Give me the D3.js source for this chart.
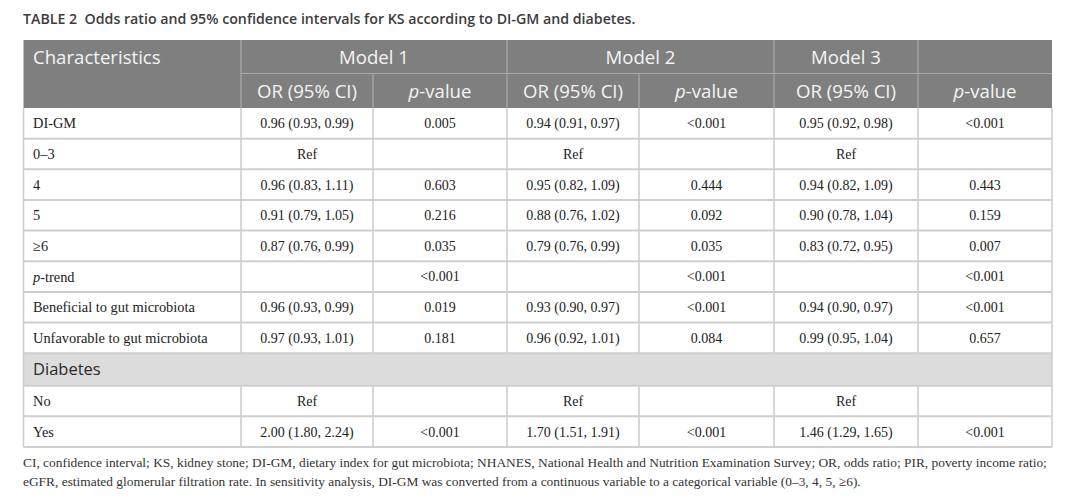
<!DOCTYPE html>
<html>
<head>
<meta charset="utf-8">
<script src="https://cdn.jsdelivr.net/npm/d3@7"></script>
<style>
  body { margin: 0; background: #fff; }
  svg { display: block; }
</style>
</head>
<body>
<div id="table"></div>
<script>
// table content
var title = "TABLE 2  Odds ratio and 95% confidence intervals for KS according to DI-GM and diabetes.";
var models = ["Model 1", "Model 2", "Model 3"];
var subHeads = ["OR (95% CI)", "p-value"];

var labels = ["DI-GM", "0\u20133", "4", "5", "\u22656", "p-trend",
    "Beneficial to gut microbiota", "Unfavorable to gut microbiota",
    "Diabetes", "No", "Yes"];
var m1OR = ["0.96 (0.93, 0.99)", "Ref", "0.96 (0.83, 1.11)", "0.91 (0.79, 1.05)", "0.87 (0.76, 0.99)", "",
    "0.96 (0.93, 0.99)", "0.97 (0.93, 1.01)", null, "Ref", "2.00 (1.80, 2.24)"];
var m1P = ["0.005", "", "0.603", "0.216", "0.035", "<0.001", "0.019", "0.181", null, "", "<0.001"];
var m2OR = ["0.94 (0.91, 0.97)", "Ref", "0.95 (0.82, 1.09)", "0.88 (0.76, 1.02)", "0.79 (0.76, 0.99)", "",
    "0.93 (0.90, 0.97)", "0.96 (0.92, 1.01)", null, "Ref", "1.70 (1.51, 1.91)"];
var m2P = ["<0.001", "", "0.444", "0.092", "0.035", "<0.001", "<0.001", "0.084", null, "", "<0.001"];
var m3OR = ["0.95 (0.92, 0.98)", "Ref", "0.94 (0.82, 1.09)", "0.90 (0.78, 1.04)", "0.83 (0.72, 0.95)", "",
    "0.94 (0.90, 0.97)", "0.99 (0.95, 1.04)", null, "Ref", "1.46 (1.29, 1.65)"];
var m3P = ["<0.001", "", "0.443", "0.159", "0.007", "<0.001", "<0.001", "0.657", null, "", "<0.001"];

var footnote = [
    "CI, confidence interval; KS, kidney stone; DI-GM, dietary index for gut microbiota; NHANES, National Health and Nutrition Examination Survey; OR, odds ratio; PIR, poverty income ratio;",
    "eGFR, estimated glomerular filtration rate. In sensitivity analysis, DI-GM was converted from a continuous variable to a categorical variable (0\u20133, 4, 5, \u22656)."
];

var width = 1080, height = 503;
var colEdges = [23.5, 241, 373, 507, 639, 774, 918, 1052];
var headTop = 40, headRow1 = 33.5, headRow2 = 34.5;
var bodyRowH = 30.65, sectionRowH = 32.5;

var columns = [labels, m1OR, m1P, m2OR, m2P, m3OR, m3P];

var svg = d3.select("#table").append("svg")
    .attr("width", width)
    .attr("height", height);

// title
svg.append("text")
    .attr("x", 23)
    .attr("y", 24)
    .attr("font-family", "Open Sans")
    .attr("font-weight", 600)
    .attr("font-size", 14.2)
    .attr("fill", "#3d3d3d")
    .attr("xml:space", "preserve")
    .text(title);

// row positions
var rowTops = [];
var y0 = headTop + headRow1 + headRow2;
labels.forEach(function (d, i) {
    rowTops.push(y0);
    y0 += (m1OR[i] === null) ? sectionRowH : bodyRowH;
});
var tableBottom = y0;
var rowY = d3.scaleOrdinal().domain(d3.range(labels.length)).range(rowTops);

var x = d3.scaleOrdinal().domain(d3.range(colEdges.length)).range(colEdges);
var colMid = function (c) { return (x(c) + x(c + 1)) / 2; };

// ****************** header ***************************
var head = svg.append("g").attr("class", "head");
head.append("rect")
    .attr("x", x(0)).attr("y", headTop)
    .attr("width", x(7) - x(0)).attr("height", headRow1 + headRow2)
    .attr("fill", "#7f7f7f");

var hline = "#a9a9a9";
head.append("line")
    .attr("x1", x(1)).attr("x2", x(7))
    .attr("y1", headTop + headRow1).attr("y2", headTop + headRow1)
    .attr("stroke", hline).attr("stroke-width", 1.2);
// vertical lines: full height and upper row separators
[1, 3, 5, 6].forEach(function (c) {
    head.append("line")
        .attr("x1", x(c)).attr("x2", x(c))
        .attr("y1", headTop).attr("y2", headTop + headRow1 + headRow2)
        .attr("stroke", hline).attr("stroke-width", 1.2);
});
[2, 4].forEach(function (c) {
    head.append("line")
        .attr("x1", x(c)).attr("x2", x(c))
        .attr("y1", headTop + headRow1).attr("y2", headTop + headRow1 + headRow2)
        .attr("stroke", hline).attr("stroke-width", 1.2);
});

var headFont = function (s) {
    return s.attr("font-family", "Open Sans")
        .attr("font-size", 18.6)
        .attr("fill", "#f4f4f4");
};

head.append("text").call(headFont)
    .attr("x", 33).attr("y", headTop + headRow1 / 2 + 0.5)
    .attr("dy", "0.35em")
    .text("Characteristics");

var modelSpans = [[1, 3], [3, 5], [5, 6]];
head.selectAll("text.model")
    .data(models)
    .enter().append("text")
    .attr("class", "model")
    .call(headFont)
    .attr("text-anchor", "middle")
    .attr("x", function (d, i) { return (x(modelSpans[i][0]) + x(modelSpans[i][1])) / 2; })
    .attr("y", headTop + headRow1 / 2 + 0.5)
    .attr("dy", "0.35em")
    .text(function (d) { return d; });

d3.range(1, 7).forEach(function (c) {
    var t = head.append("text").call(headFont)
        .attr("text-anchor", "middle")
        .attr("x", colMid(c))
        .attr("y", headTop + headRow1 + headRow2 / 2 + 0.5)
        .attr("dy", "0.35em");
    if (c % 2 === 1) {
        t.text(subHeads[0]);
    } else {
        t.append("tspan").attr("font-style", "italic").text("p");
        t.append("tspan").text("-value");
    }
});

// ****************** body ***************************
var body = svg.append("g").attr("class", "body");
var grid = "#cfcfcf";

// section band
labels.forEach(function (d, i) {
    if (m1OR[i] === null) {
        body.append("rect")
            .attr("x", x(0)).attr("y", rowY(i))
            .attr("width", x(7) - x(0)).attr("height", sectionRowH)
            .attr("fill", "#dcdcdc");
    }
});

// horizontal lines
labels.forEach(function (d, i) {
    var yy = rowY(i) + ((m1OR[i] === null) ? sectionRowH : bodyRowH);
    body.append("line")
        .attr("x1", x(0)).attr("x2", x(7))
        .attr("y1", yy).attr("y2", yy)
        .attr("stroke", grid).attr("stroke-width", 2);
});

// vertical lines (skip the section band)
labels.forEach(function (d, i) {
    var isSection = m1OR[i] === null;
    var h = isSection ? sectionRowH : bodyRowH;
    var cs = isSection ? [0, 7] : d3.range(0, 8);
    cs.forEach(function (c) {
        body.append("line")
            .attr("x1", x(c)).attr("x2", x(c))
            .attr("y1", rowY(i)).attr("y2", rowY(i) + h)
            .attr("stroke", grid).attr("stroke-width", 1.6);
    });
});

// cell texts
labels.forEach(function (d, i) {
    var isSection = m1OR[i] === null;
    var h = isSection ? sectionRowH : bodyRowH;
    var cy = rowY(i) + h / 2;
    if (isSection) {
        body.append("text")
            .attr("x", 33).attr("y", cy).attr("dy", "0.35em")
            .attr("font-family", "Open Sans")
            .attr("font-weight", 500)
            .attr("font-size", 16.5)
            .attr("fill", "#2a2a2a")
            .text(d);
        return;
    }
    columns.forEach(function (col, c) {
        var v = col[i];
        if (!v) return;
        var t = body.append("text")
            .attr("y", cy).attr("dy", "0.35em")
            .attr("font-family", "Liberation Serif")
            .attr("font-size", 14)
            .attr("fill", "#222");
        if (c === 0) {
            t.attr("x", 33).attr("font-size", 14.4);
        } else {
            t.attr("x", colMid(c)).attr("text-anchor", "middle");
        }
        if (v === "p-trend") {
            t.append("tspan").attr("font-style", "italic").text("p");
            t.append("tspan").text("-trend");
        } else {
            t.text(v);
        }
    });
});

// ****************** footnote ***************************
svg.selectAll("text.foot")
    .data(footnote)
    .enter().append("text")
    .attr("class", "foot")
    .attr("x", 23)
    .attr("y", function (d, i) { return tableBottom + 20 + i * 18.5; })
    .attr("font-family", "Liberation Serif")
    .attr("font-size", 13.4)
    .attr("fill", "#333")
    .text(function (d) { return d; });
</script>
</body>
</html>
